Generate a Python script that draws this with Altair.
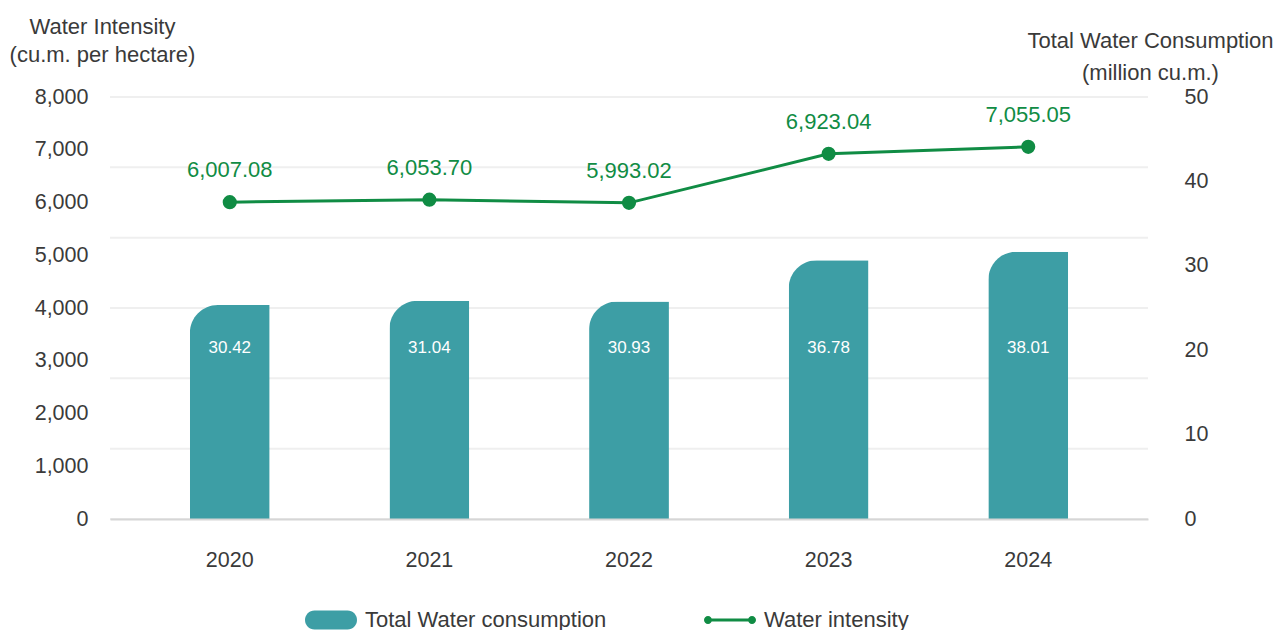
import altair as alt
import pandas as pd

# ---- data ----
years = ["2020", "2021", "2022", "2023", "2024"]
consumption = [30.42, 31.04, 30.93, 36.78, 38.01]          # million cu.m.
intensity = [6007.08, 6053.70, 5993.02, 6923.04, 7055.05]  # cu.m. per hectare
left_ticks = [0, 1000, 2000, 3000, 4000, 5000, 6000, 7000, 8000]
right_ticks = [0, 10, 20, 30, 40, 50]
grid_levels = [0, 10, 20, 30, 40, 50, 60]
series = ["Total Water consumption", "Water intensity"]
left_title = ["Water Intensity", "(cu.m. per hectare)"]
right_title = ["Total Water Consumption", "(million cu.m.)"]

TEAL = "#3d9ea5"
GREEN = "#108c44"
TEXT = "#3a3a3a"
GRID = "#efefef"
FONT = "Liberation Sans"

df = pd.DataFrame({"year": years, "consumption": consumption, "intensity": intensity})
grid_df = pd.DataFrame({"level": grid_levels})
right_df = pd.DataFrame({"v": right_ticks})

x_enc = alt.X(
    "year:N", sort=None,
    scale=alt.Scale(paddingInner=0.6, paddingOuter=0.4),
    axis=alt.Axis(title=None, labelAngle=0, ticks=False, domainColor="#d6d6d6",
                  domainWidth=2, labelPadding=41, labelBaseline="middle",
                  labelFontSize=21.5, labelColor=TEXT, zindex=1),
)

color_scale = alt.Scale(domain=series, range=[TEAL, GREEN])
pill = "M-1.65,-0.95L1.65,-0.95A0.95,0.95,0,0,1,1.65,0.95L-1.65,0.95A0.95,0.95,0,0,1,-1.65,-0.95Z"
linesym = ("M-2.2,-0.15L2.2,-0.15L2.2,0.15L-2.2,0.15Z"
           "M-2.6,0A0.4,0.4,0,1,1,-1.8,0A0.4,0.4,0,1,1,-2.6,0Z"
           "M1.8,0A0.4,0.4,0,1,1,2.6,0A0.4,0.4,0,1,1,1.8,0Z")
legend = alt.Legend(
    title=None, orient="none", legendX=210, legendY=512, direction="horizontal",
    symbolType={"expr": f"datum.value == '{series[1]}' ? '{linesym}' : '{pill}'"},
    symbolSize=400, symbolStrokeWidth=0, labelFontSize=22, labelColor=TEXT,
    labelOffset=23, columnPadding=97, padding=0, labelLimit=500,
)
color_enc = alt.Color("series:N", scale=color_scale, legend=legend)

bar_y = alt.Y("consumption:Q", scale=alt.Scale(domain=[0, 60]), axis=None)

grid = alt.Chart(grid_df).mark_rule(color=GRID, strokeWidth=2).encode(
    y=alt.Y("level:Q", scale=alt.Scale(domain=[0, 60]), axis=None)
)
bars = alt.Chart(df).transform_calculate(series=f"'{series[0]}'").mark_bar(
    cornerRadiusTopLeft=28
).encode(x=x_enc, y=bar_y, color=color_enc)
bar_labels = alt.Chart(df).mark_text(color="white", fontSize=17, baseline="middle").encode(
    x=x_enc, y=alt.value(251), text=alt.Text("consumption:Q", format=".2f")
)
bar_group = alt.layer(grid, bars, bar_labels)

left_axis = alt.Axis(
    orient="left", values=left_ticks, format=",.0f", grid=False, ticks=False, domain=False,
    labelPadding=22, labelFontSize=21.5, labelColor=TEXT,
    title=left_title, titleAngle=0, titleX=-8, titleY=-64, titleAlign="center",
    titleBaseline="alphabetic", titleFontSize=22, titleFontWeight="normal",
    titleColor=TEXT, titleLineHeight=28,
)
line_y = alt.Y("intensity:Q", scale=alt.Scale(domain=[0, 8000]), axis=left_axis)

line = alt.Chart(df).mark_line(color=GREEN, strokeWidth=3).encode(x=x_enc, y=line_y)
pts = alt.Chart(df).transform_calculate(series=f"'{series[1]}'").mark_circle(
    size=200, opacity=1
).encode(x=x_enc, y=line_y, color=color_enc)
line_labels = alt.Chart(df).mark_text(color=GREEN, fontSize=22, dy=-32, baseline="middle").encode(
    x=x_enc, y=line_y, text=alt.Text("intensity:Q", format=",.2f")
)
line_group = alt.layer(line, pts, line_labels)

right_axis = alt.Axis(
    orient="right", values=right_ticks, grid=False, ticks=False, domain=False,
    labelPadding=36, labelFontSize=21.5, labelColor=TEXT,
    title=right_title, titleAngle=0, titleX=2, titleY=-50, titleAlign="center",
    titleBaseline="alphabetic", titleFontSize=22, titleFontWeight="normal",
    titleColor=TEXT, titleLineHeight=32,
)
right_layer = alt.Chart(right_df).mark_point(opacity=0).encode(
    y=alt.Y("v:Q", scale=alt.Scale(domain=[0, 50]), axis=right_axis)
)

chart = (
    alt.layer(bar_group, line_group, right_layer)
    .resolve_scale(y="independent")
    .properties(
        width=1038, height=422,
        autosize=alt.AutoSizeParams(type="none"),
        padding={"left": 102, "top": 89, "right": 127, "bottom": 115},
    )
    .configure(font=FONT)
    .configure_view(stroke=None)
)

chart.save("out.html", embed_options={"renderer": "svg", "actions": False})
